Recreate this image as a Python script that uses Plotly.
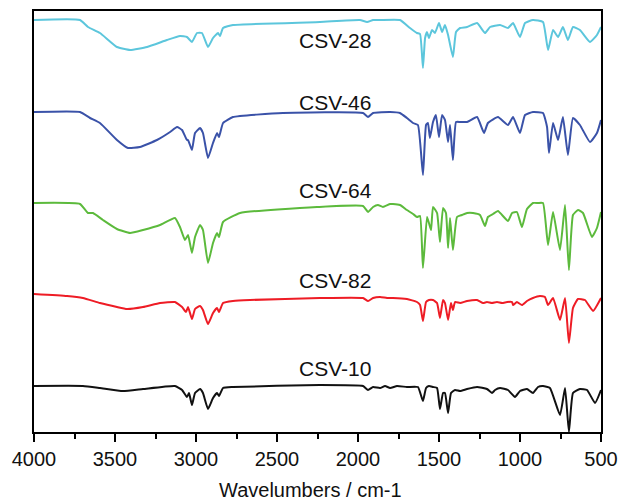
import plotly.graph_objects as go

# Wavenumbers (cm-1) and relative transmittance (a.u., stacked)
wn_28 = [4000, 3716, 3667, 3593, 3488, 3407, 3302, 3179, 3099, 3056, 3025, 2994, 2963, 2926, 2895, 2864, 2852, 2833, 2772, 2235, 1988, 1944, 1907, 1864, 1741, 1679, 1636, 1617, 1599, 1586, 1574, 1562, 1543, 1525, 1500, 1481, 1463, 1444, 1414, 1395, 1370, 1327, 1265, 1216, 1185, 1123, 1074, 1043, 1000, 969, 920, 858, 827, 796, 765, 735, 704, 673, 630, 568, 525, 500]
t_28 = [412, 412, 405, 399, 385, 382, 385, 392, 396, 395, 390, 399, 399, 385, 394, 399, 396, 404, 407, 410, 412, 410, 412, 412, 412, 404, 399, 398, 364, 394, 400, 394, 402, 399, 409, 400, 407, 397, 375, 400, 404, 405, 409, 399, 405, 407, 404, 409, 395, 409, 412, 410, 382, 402, 395, 405, 392, 405, 402, 390, 397, 405]

wn_46 = [4000, 3716, 3654, 3593, 3488, 3420, 3346, 3241, 3160, 3117, 3086, 3056, 3049, 3025, 3006, 2975, 2957, 2926, 2895, 2870, 2858, 2833, 2772, 2463, 1969, 1938, 1907, 1802, 1741, 1698, 1660, 1630, 1599, 1580, 1568, 1556, 1537, 1519, 1500, 1481, 1463, 1444, 1432, 1414, 1395, 1370, 1327, 1265, 1222, 1198, 1136, 1074, 1043, 1000, 969, 920, 858, 833, 821, 796, 765, 735, 704, 673, 630, 568, 525, 500]
t_46 = [320, 320, 314, 309, 292, 284, 285, 292, 300, 305, 302, 292, 292, 282, 299, 304, 299, 274, 289, 299, 295, 309, 315, 319, 319, 315, 319, 320, 319, 314, 309, 307, 257, 307, 309, 294, 310, 317, 295, 317, 312, 290, 307, 272, 310, 310, 310, 315, 299, 309, 315, 307, 315, 299, 317, 320, 319, 305, 279, 309, 292, 315, 277, 314, 307, 290, 299, 312]

wn_64 = [4000, 3716, 3667, 3636, 3574, 3488, 3407, 3327, 3222, 3130, 3099, 3068, 3049, 3025, 3006, 2975, 2957, 2926, 2895, 2870, 2858, 2833, 2728, 2253, 1969, 1938, 1907, 1877, 1846, 1802, 1784, 1741, 1698, 1660, 1636, 1617, 1599, 1574, 1562, 1549, 1537, 1512, 1494, 1475, 1457, 1444, 1432, 1414, 1389, 1358, 1327, 1290, 1247, 1216, 1198, 1167, 1136, 1074, 1049, 1019, 988, 957, 920, 889, 858, 827, 796, 753, 722, 698, 673, 642, 611, 556, 525, 500]
t_64 = [229, 228, 219, 219, 212, 203, 199, 202, 207, 214, 205, 192, 197, 179, 195, 207, 202, 169, 189, 199, 195, 210, 219, 225, 226, 220, 225, 227, 225, 228, 228, 227, 222, 218, 215, 216, 164, 215, 209, 202, 225, 219, 190, 224, 219, 184, 214, 182, 215, 217, 219, 219, 217, 206, 215, 218, 221, 211, 219, 220, 205, 223, 229, 229, 229, 187, 220, 182, 227, 162, 217, 222, 219, 195, 204, 220]

wn_82 = [4000, 3796, 3698, 3593, 3488, 3426, 3327, 3222, 3130, 3086, 3062, 3049, 3025, 3006, 2975, 2957, 2926, 2895, 2870, 2858, 2833, 2772, 2667, 2235, 1969, 1938, 1907, 1864, 1821, 1784, 1698, 1636, 1617, 1599, 1580, 1562, 1537, 1512, 1494, 1475, 1463, 1444, 1426, 1414, 1401, 1370, 1327, 1265, 1228, 1204, 1173, 1142, 1111, 1080, 1049, 1043, 1019, 988, 957, 920, 877, 846, 827, 796, 753, 722, 698, 673, 642, 599, 549, 500]
t_82 = [138, 136, 134, 129, 125, 123, 125, 129, 130, 125, 120, 125, 113, 123, 126, 122, 108, 119, 124, 120, 129, 131, 132, 134, 134, 131, 134, 135, 134, 134, 133, 130, 127, 111, 130, 132, 132, 129, 114, 132, 129, 112, 129, 122, 130, 129, 131, 132, 129, 130, 129, 130, 129, 130, 130, 127, 130, 127, 131, 134, 136, 135, 127, 134, 112, 134, 89, 124, 133, 132, 121, 134]

wn_10 = [4000, 3698, 3593, 3451, 3327, 3130, 3086, 3056, 3043, 3025, 3006, 2975, 2957, 2926, 2895, 2870, 2858, 2833, 2772, 2235, 1969, 1938, 1907, 1864, 1833, 1802, 1759, 1698, 1630, 1599, 1580, 1562, 1537, 1512, 1494, 1475, 1463, 1444, 1426, 1401, 1370, 1327, 1265, 1204, 1173, 1154, 1123, 1074, 1031, 1000, 957, 920, 889, 858, 815, 753, 722, 698, 673, 630, 586, 537, 500]
t_10 = [46, 46, 44, 41, 43, 46, 42, 35, 39, 27, 39, 43, 39, 23, 34, 39, 36, 44, 45, 47, 46, 42, 45, 44, 46, 44, 46, 45, 45, 31, 44, 46, 45, 44, 23, 39, 39, 19, 39, 42, 41, 43, 45, 43, 39, 42, 44, 42, 35, 41, 43, 39, 45, 46, 44, 17, 44, 0, 39, 43, 42, 29, 42]

names = ["CSV-28", "CSV-46", "CSV-64", "CSV-82", "CSV-10"]
colors = ["#5cc6dc", "#3a52a8", "#5cba3c", "#ee1c25", "#111111"]
label_y = [392, 330, 242, 152, 64]
label_x = 2140
xs = [wn_28, wn_46, wn_64, wn_82, wn_10]
ys = [t_28, t_46, t_64, t_82, t_10]

FONT = "Liberation Sans, Arial"

fig = go.Figure()
for x, y, c, n in zip(xs, ys, colors, names):
    fig.add_trace(go.Scatter(x=x, y=y, mode="lines", name=n,
                             line=dict(color=c, width=2, shape="spline", smoothing=0.4),
                             showlegend=False))

for n, ly in zip(names, label_y):
    fig.add_annotation(x=label_x, y=ly, text=n, showarrow=False,
                       font=dict(size=21, color="#111111", family=FONT),
                       xanchor="center", yanchor="middle")

fig.add_annotation(xref="paper", yref="paper", x=0.488, y=-0.138,
                   text="Wavelumbers / cm-1", showarrow=False,
                   font=dict(size=20, color="#111111", family=FONT),
                   xanchor="center", yanchor="middle")

fig.update_xaxes(range=[4000, 500], tickmode="linear", tick0=500, dtick=500,
                 ticks="outside", ticklen=8, tickwidth=1.5, tickcolor="black",
                 minor=dict(ticks="outside", ticklen=5, tickwidth=1.5, dtick=250, tickcolor="black"),
                 showline=True, linecolor="black", linewidth=2, mirror=True,
                 showgrid=False, zeroline=False, automargin=False,
                 tickfont=dict(size=20, color="#111111", family=FONT))
fig.update_yaxes(range=[0, 421], showline=True, linecolor="black", linewidth=2, mirror=True,
                 showticklabels=False, ticks="", showgrid=False, zeroline=False, automargin=False)

fig.update_layout(width=620, height=500, margin=dict(l=34, r=19, t=11, b=68),
                  plot_bgcolor="white", paper_bgcolor="white")

fig.write_html("out.html")
